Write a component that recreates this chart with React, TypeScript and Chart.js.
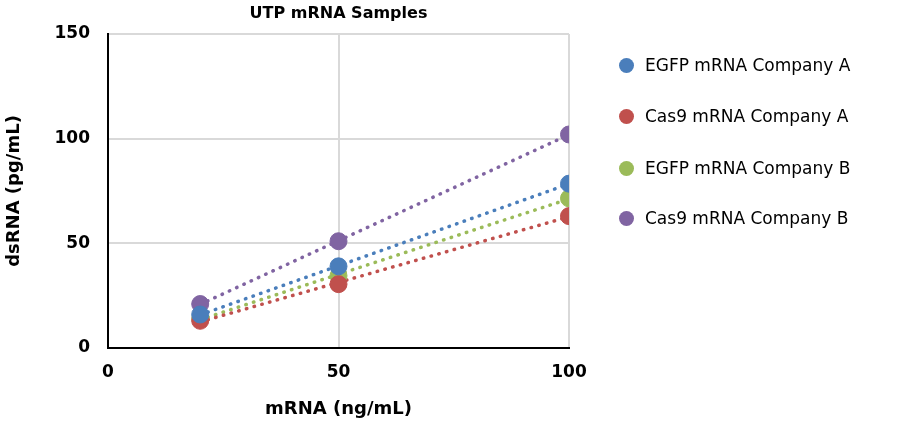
import React, { useEffect, useRef } from "react";
import { Chart, registerables } from "chart.js";
Chart.register(...registerables);

const xValues = [20, 50, 100];
const seriesNames = ["EGFP mRNA Company A", "Cas9 mRNA Company A", "EGFP mRNA Company B", "Cas9 mRNA Company B"];
const egfpA = [16, 39, 78.5];
const cas9A = [13, 30.5, 63];
const egfpB = [14, 34.5, 71.5];
const cas9B = [21, 51, 102];
const colors = ["#4a7ebb", "#c0504d", "#9bbb59", "#8064a2"];
const allSeries = [egfpA, cas9A, egfpB, cas9B];

function fit(ys: number[]) {
  const n = xValues.length;
  const mx = xValues.reduce((a, b) => a + b, 0) / n;
  const my = ys.reduce((a, b) => a + b, 0) / n;
  let num = 0, den = 0;
  xValues.forEach((x, i) => { num += (x - mx) * (ys[i] - my); den += (x - mx) ** 2; });
  const m = num / den;
  const b = my - m * mx;
  const x0 = xValues[0], x1 = xValues[n - 1];
  return [{ x: x0, y: m * x0 + b }, { x: x1, y: m * x1 + b }];
}

const font = "DejaVu Sans";

export default function App() {
  const ref = useRef<HTMLCanvasElement>(null);
  useEffect(() => {
    const datasets: any[] = [];
    allSeries.forEach((ys, i) => {
      datasets.push({
        type: "line", data: fit(ys), borderColor: colors[i], borderWidth: 3.5,
        borderDash: [0.5, 7.5], borderCapStyle: "round", pointRadius: 0, showLine: true, order: 2,
      });
    });
    allSeries.forEach((ys, i) => {
      datasets.push({
        type: "scatter", data: xValues.map((x, j) => ({ x, y: ys[j] })),
        backgroundColor: colors[i], borderColor: colors[i], pointRadius: 8.5, order: 1,
      });
    });
    const chart = new Chart(ref.current!, {
      type: "scatter",
      data: { datasets },
      options: {
        animation: false, responsive: false,
        layout: { padding: { left: 0, right: 331, top: 34, bottom: 0 } },
        plugins: { legend: { display: false }, tooltip: { enabled: false } },
        scales: {
          x: {
            type: "linear", min: 0, max: 100,
            ticks: { stepSize: 50, color: "#000", font: { family: font, size: 17, weight: "bold" }, padding: 14 },
            grid: { color: "#d9d9d9", lineWidth: 2, drawTicks: false },
            border: { color: "#000", width: 2 },
            title: { display: true, text: "mRNA (ng/mL)", color: "#000", font: { family: font, size: 18, weight: "bold" } },
            afterFit: (s: any) => { s.height = 76; },
          },
          y: {
            min: 0, max: 150,
            ticks: { stepSize: 50, color: "#000", font: { family: font, size: 17, weight: "bold" }, padding: 18 },
            grid: { color: "#d9d9d9", lineWidth: 2, drawTicks: false },
            border: { color: "#000", width: 2 },
            title: { display: true, text: "dsRNA (pg/mL)", color: "#000", font: { family: font, size: 18, weight: "bold" } },
            afterFit: (s: any) => { s.width = 108; },
          },
        },
      } as any,
    });
    return () => chart.destroy();
  }, []);
  return (
    <div style={{ position: "absolute", left: 0, top: 0, width: 900, height: 424, background: "#fff", fontFamily: "'DejaVu Sans', sans-serif" }}>
      <canvas ref={ref} width={900} height={424} />
      <div style={{ position: "absolute", left: 108, width: 461, top: 3, textAlign: "center", fontWeight: "bold", fontSize: 16 }}>UTP mRNA Samples</div>
      {seriesNames.map((n, i) => (
        <div key={n} style={{ position: "absolute", left: 619, top: [55, 106, 158, 208][i], display: "flex", alignItems: "center", fontSize: 17, whiteSpace: "nowrap" }}>
          <span style={{ width: 15, height: 15, borderRadius: 8, background: colors[i], display: "inline-block", marginRight: 11 }} />
          {n}
        </div>
      ))}
    </div>
  );
}
